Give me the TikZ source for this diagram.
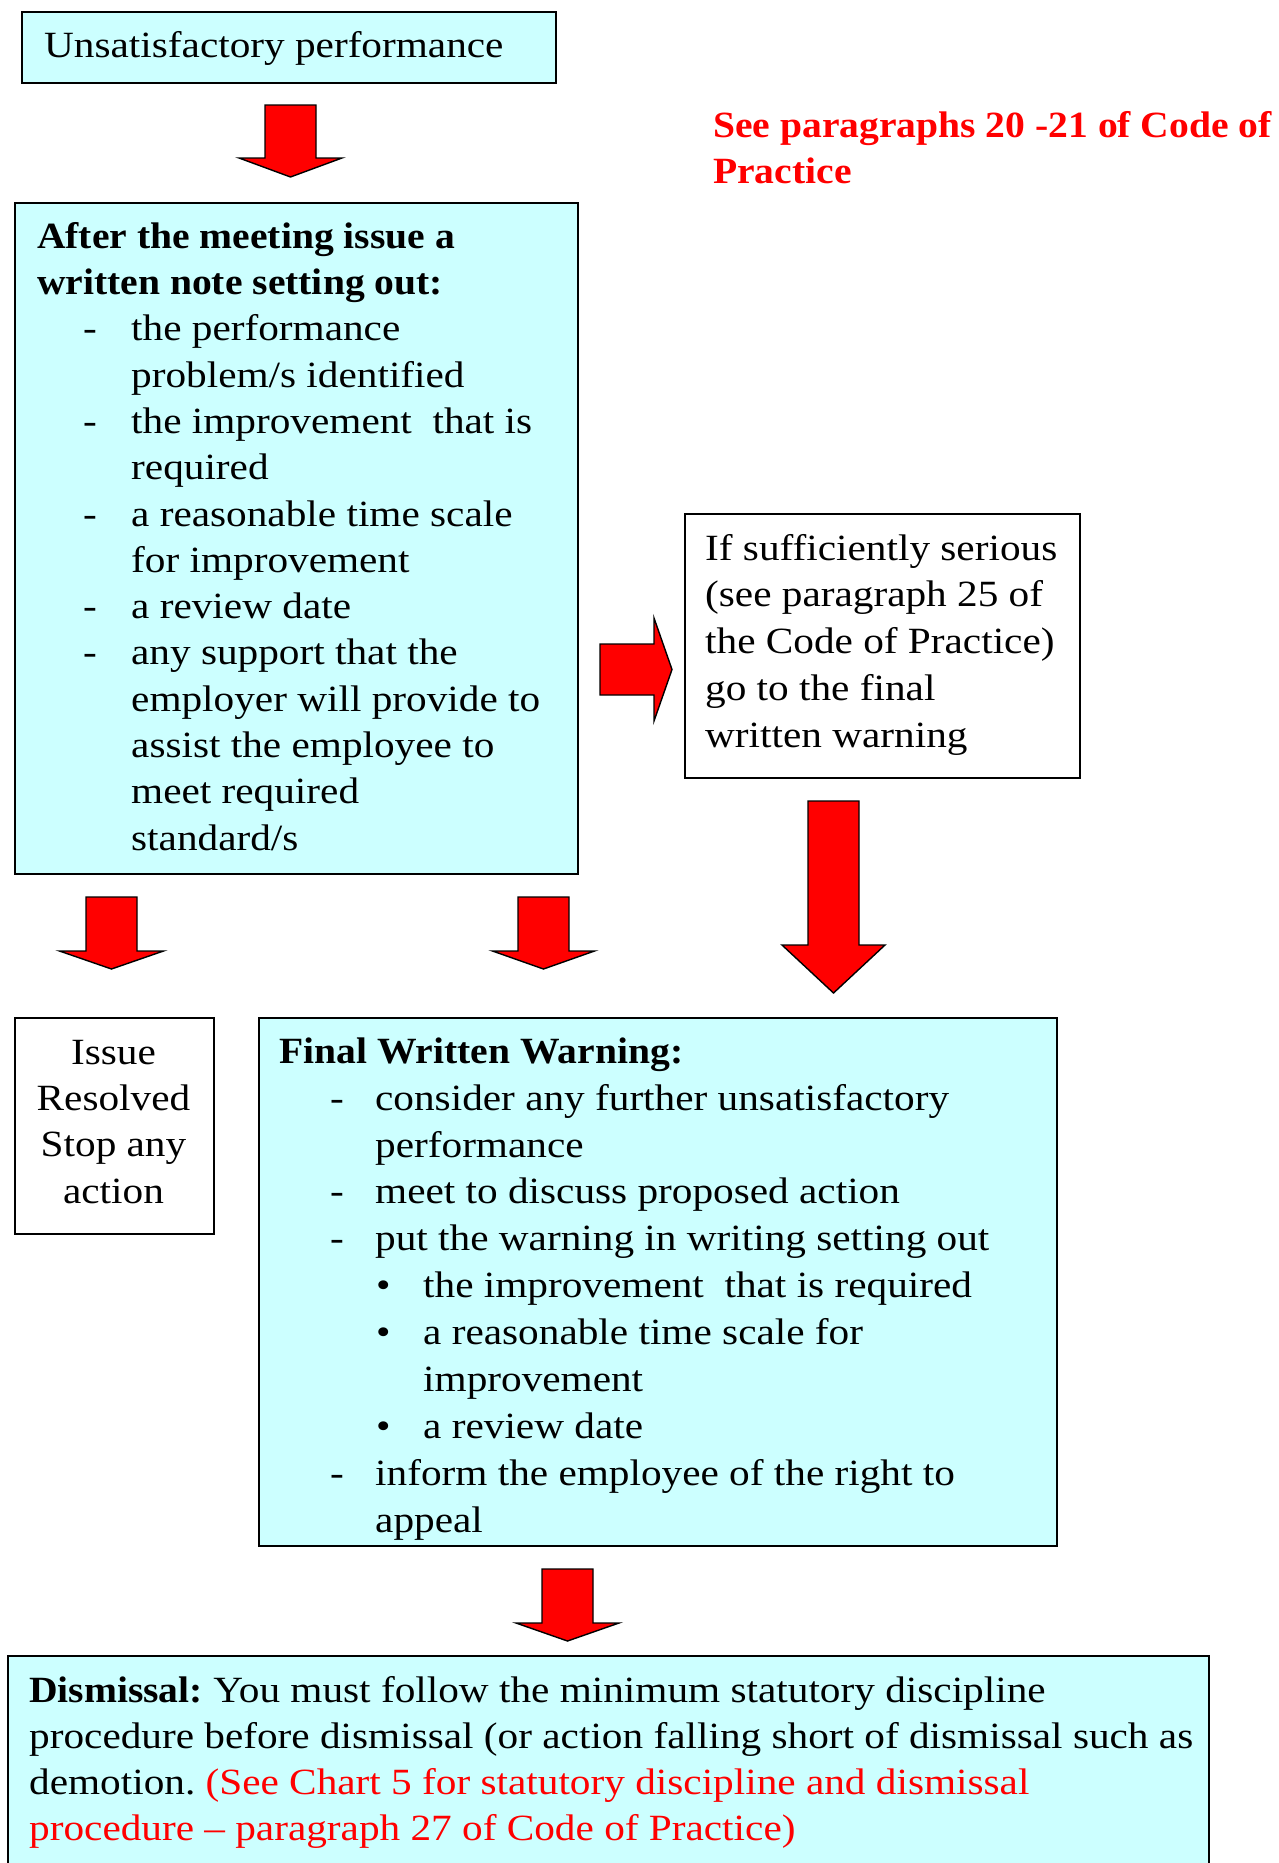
\documentclass[tikz,border=0pt]{standalone}
\usepackage{fontspec}
\setmainfont{Liberation Serif}[FakeStretch=1.115]
\newfontfamily\boldface{Liberation Serif Bold}[FakeStretch=1.07]
\newcommand{\bfx}[1]{{\boldface #1}}
\usetikzlibrary{calc}
\definecolor{boxcyan}{HTML}{CCFFFF}
\definecolor{arrowred}{HTML}{FF0000}
\newcommand{\blkdown}[6]{% cx, ytop, yhead, ytip, shafthalf, headhalf
  \draw[blockarrow] ({#1-#5},#2) -- ({#1+#5},#2) -- ({#1+#5},#3) -- ({#1+#6},#3)
    -- (#1,#4) -- ({#1-#6},#3) -- ({#1-#5},#3) -- cycle;}
\frenchspacing
\begin{document}
\begin{tikzpicture}[x=1pt,y=-1pt,
  boxframe/.style={draw=black, line width=1.6pt, rectangle, inner sep=0pt, anchor=north west},
  cyanbox/.style={boxframe, fill=boxcyan},
  whitebox/.style={boxframe, fill=white},
  bodytext/.style={inner sep=0pt, anchor=north west, align=left},
  blockarrow/.style={draw=black, fill=arrowred, line width=1.4pt, line join=miter},
]
\useasboundingbox (0,0) rectangle (1278,1863);
\clip (0,0) rectangle (1278,1863);

% ---------- boxes ----------
\node[cyanbox, minimum width=534pt, minimum height=71pt] (unsat) at (21,11) {};
\node[cyanbox, minimum width=563pt, minimum height=671pt] (note) at (14,202) {};
\node[whitebox, minimum width=395pt, minimum height=264pt] (serious) at (684,513) {};
\node[whitebox, minimum width=199pt, minimum height=216pt] (resolved) at (14,1017) {};
\node[cyanbox, minimum width=798pt, minimum height=528pt] (final) at (258,1017) {};
\node[cyanbox, minimum width=1201pt, minimum height=260pt] (dismiss) at (7,1655) {};

% ---------- texts ----------
\node[inner sep=0pt, anchor=base west, font=\fontsize{37}{46.3}\selectfont] (unsattext) at (44,57) {Unsatisfactory performance};

\node[bodytext, text=arrowred, font=\fontsize{37}{46}\boldface\selectfont] (seepara) at (713,105.3)
  {\strut See paragraphs 20 -21 of Code of\\Practice};

\node[bodytext, font=\fontsize{37}{46.3}\selectfont] (notetext) at (37,215.6)
  {\strut\bfx{After the meeting issue a}\\
   \bfx{written note setting out:}\\
   \hspace*{46pt}\makebox[48pt][l]{-}the performance\\
   \hspace*{94pt}problem/s identified\\
   \hspace*{46pt}\makebox[48pt][l]{-}the improvement\ \ that is\\
   \hspace*{94pt}required\\
   \hspace*{46pt}\makebox[48pt][l]{-}a reasonable time scale\\
   \hspace*{94pt}for improvement\\
   \hspace*{46pt}\makebox[48pt][l]{-}a review date\\
   \hspace*{46pt}\makebox[48pt][l]{-}any support that the\\
   \hspace*{94pt}employer will provide to\\
   \hspace*{94pt}assist the employee to\\
   \hspace*{94pt}meet required\\
   \hspace*{94pt}standard/s};

\node[bodytext, font=\fontsize{37}{46.8}\selectfont] (serioustext) at (705,527.2)
  {\strut If sufficiently serious\\
   (see paragraph 25 of\\
   the Code of Practice)\\
   go to the final\\
   written warning};

\node[inner sep=0pt, anchor=north, align=center, font=\fontsize{37}{46.3}\selectfont] (resolvedtext) at (113.5,1031.6)
  {\strut Issue\\Resolved\\Stop any\\action};

\node[bodytext, font=\fontsize{37}{46.9}\selectfont] (finaltext) at (279,1030.2)
  {\strut\bfx{Final Written Warning:}\\
   \hspace*{51pt}\makebox[45pt][l]{-}consider any further unsatisfactory\\
   \hspace*{96pt}performance\\
   \hspace*{51pt}\makebox[45pt][l]{-}meet to discuss proposed action\\
   \hspace*{51pt}\makebox[45pt][l]{-}put the warning in writing setting out\\
   \hspace*{97pt}\makebox[47pt][l]{\textbullet}the improvement\ \ that is required\\
   \hspace*{97pt}\makebox[47pt][l]{\textbullet}a reasonable time scale for\\
   \hspace*{144pt}improvement\\
   \hspace*{97pt}\makebox[47pt][l]{\textbullet}a review date\\
   \hspace*{51pt}\makebox[45pt][l]{-}inform the employee of the right to\\
   \hspace*{96pt}appeal};

\node[bodytext, font=\fontsize{37}{46}\selectfont] (dismisstext) at (29,1669.8)
  {\strut\bfx{Dismissal:} You must follow the minimum statutory discipline\\
   procedure before dismissal (or action falling short of dismissal such as\\
   demotion. \textcolor{arrowred}{(See Chart 5 for statutory discipline and dismissal}\\
   \textcolor{arrowred}{procedure – paragraph 27 of Code of Practice)}};

% ---------- block arrows ----------
\blkdown{290.5}{105}{158}{177}{25.5}{51.5}
\blkdown{111.5}{897}{951}{969}{25.5}{52}
\blkdown{543.5}{897}{951}{969}{25.5}{51}
\blkdown{833.5}{801}{945}{993}{25.5}{51.5}
\blkdown{567.5}{1569}{1623}{1641}{25.5}{51.5}
\draw[blockarrow] (600,644) -- (654,644) -- (654,618) -- (672,669.5) -- (654,721)
  -- (654,695) -- (600,695) -- cycle;
\end{tikzpicture}
\end{document}
